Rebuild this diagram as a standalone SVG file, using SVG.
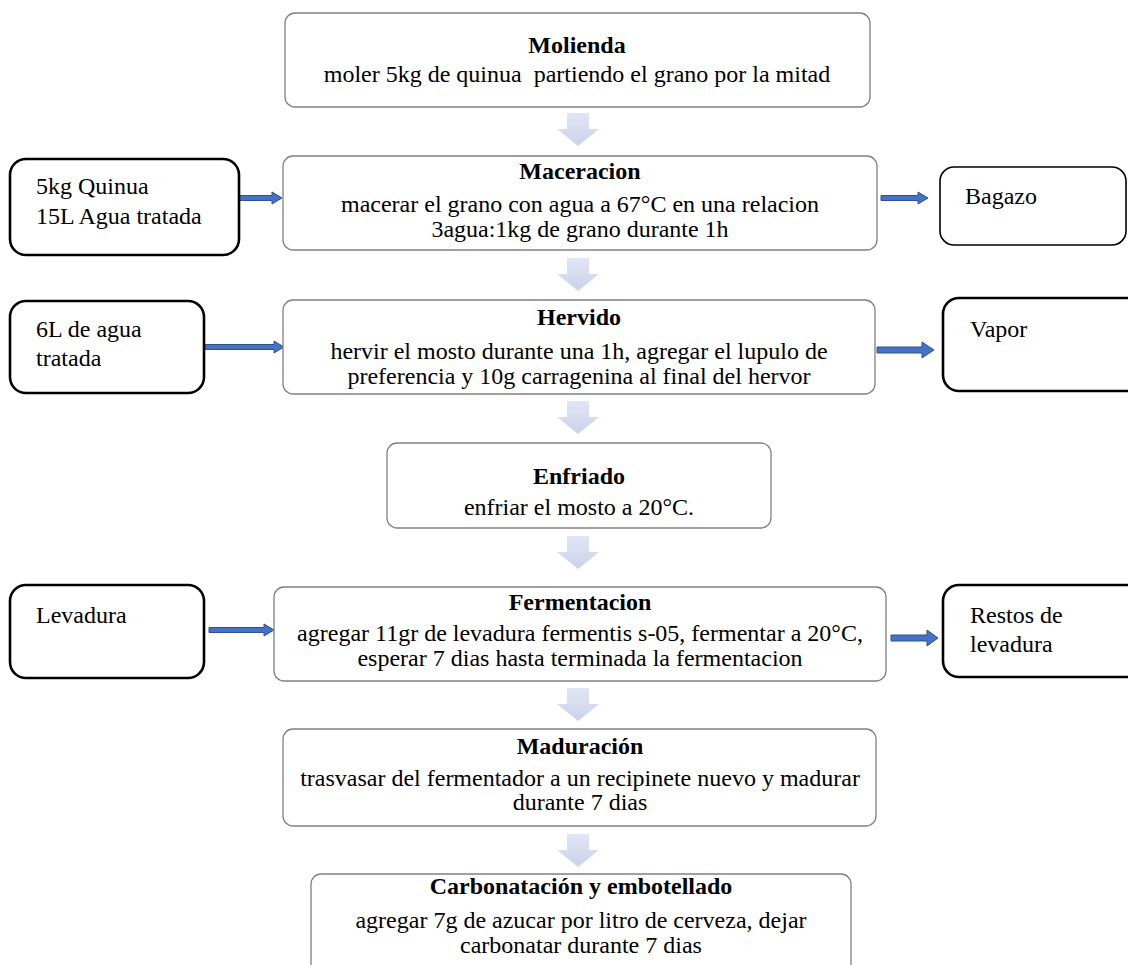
<svg xmlns="http://www.w3.org/2000/svg" width="1128" height="965" viewBox="0 0 1128 965">
<style>
.step{fill:#fff;stroke:#808080;stroke-width:1.3}
.side{fill:#fff;stroke:#000;stroke-width:2.6}
.side2{fill:#fff;stroke:#000;stroke-width:1.6}
text{font-family:"Liberation Serif","Times New Roman",serif;font-size:24px;fill:#000}
.t{font-weight:bold;text-anchor:middle}
.c{text-anchor:middle}
.blue{fill:#4472C4;stroke:#2F528F;stroke-width:1}
.down{fill:url(#g)}
</style>
<defs>
<linearGradient id="g" x1="0" y1="0" x2="0" y2="1">
<stop offset="0" stop-color="#e1e5f4"/>
<stop offset="1" stop-color="#cbd2ea"/>
</linearGradient>
<path id="dn" d="M-11,0 H11 V16 H21 L0,33 L-21,16 H-11 Z"/>
</defs>
<rect width="1128" height="965" fill="#fff"/>
<g id="connectors">
<use href="#dn" class="down" x="578" y="113"/>
<use href="#dn" class="down" x="578" y="258"/>
<use href="#dn" class="down" x="578" y="401"/>
<use href="#dn" class="down" x="578" y="536"/>
<use href="#dn" class="down" x="578" y="688"/>
<use href="#dn" class="down" x="578" y="834"/>
<polygon class="blue" points="236,195.5 272,195.5 272,192 282,198 272,204 272,200.5 236,200.5"/>
<polygon class="blue" points="881,195.5 918,195.5 918,192 928,198 918,204 918,200.5 881,200.5"/>
<polygon class="blue" points="205,344.5 274,344.5 274,341 284,347 274,353 274,349.5 205,349.5"/>
<polygon class="blue" points="877,347 922,347 922,342 934,350 922,358 922,353 877,353"/>
<polygon class="blue" points="209,627.5 264,627.5 264,624 274,630 264,636 264,632.5 209,632.5"/>
<polygon class="blue" points="891,635 927,635 927,630 938,638 927,646 927,641 891,641"/>
</g>
<g id="molienda">
<rect class="step" x="285" y="13" width="585" height="94" rx="10"/>
<text class="t" x="577" y="53">Molienda</text>
<text class="c" x="577" y="82" xml:space="preserve">moler 5kg de quinua  partiendo el grano por la mitad</text>
</g>
<g id="maceracion">
<rect class="step" x="283" y="156" width="594" height="94" rx="10"/>
<text class="t" x="580" y="179">Maceracion</text>
<text class="c" x="580" y="212">macerar el grano con agua a 67°C en una relacion</text>
<text class="c" x="580" y="237">3agua:1kg de grano durante 1h</text>
</g>
<g id="hervido">
<rect class="step" x="283" y="300" width="592" height="94" rx="10"/>
<text class="t" x="579" y="325">Hervido</text>
<text class="c" x="579" y="359">hervir el mosto durante una 1h, agregar el lupulo de</text>
<text class="c" x="579" y="384">preferencia y 10g carragenina al final del hervor</text>
</g>
<g id="enfriado">
<rect class="step" x="387" y="443" width="384" height="85" rx="10"/>
<text class="t" x="579" y="484">Enfriado</text>
<text class="c" x="579" y="515">enfriar el mosto a 20°C.</text>
</g>
<g id="fermentacion">
<rect class="step" x="274" y="587" width="612" height="94" rx="10"/>
<text class="t" x="580" y="610">Fermentacion</text>
<text class="c" x="580" y="641">agregar 11gr de levadura fermentis s-05, fermentar a 20°C,</text>
<text class="c" x="580" y="666">esperar 7 dias hasta terminada la fermentacion</text>
</g>
<g id="maduracion">
<rect class="step" x="283" y="729" width="593" height="97" rx="10"/>
<text class="t" x="580" y="754">Maduración</text>
<text class="c" x="580" y="786">trasvasar del fermentador a un recipinete nuevo y madurar</text>
<text class="c" x="580" y="810">durante 7 dias</text>
</g>
<g id="carbonatacion">
<rect class="step" x="311" y="874" width="540" height="110" rx="10"/>
<text class="t" x="581" y="894">Carbonatación y embotellado</text>
<text class="c" x="581" y="928">agregar 7g de azucar por litro de cerveza, dejar</text>
<text class="c" x="581" y="953">carbonatar durante 7 dias</text>
</g>
<g id="input-quinua">
<rect class="side" x="10" y="159" width="229" height="96" rx="16"/>
<text x="36" y="194">5kg Quinua</text>
<text x="36" y="224">15L Agua tratada</text>
</g>
<g id="output-bagazo">
<rect class="side2" x="940" y="167" width="186" height="78" rx="14"/>
<text x="965" y="204">Bagazo</text>
</g>
<g id="input-agua">
<rect class="side" x="10" y="301" width="194" height="92" rx="16"/>
<text x="36" y="337">6L de agua</text>
<text x="36" y="366">tratada</text>
</g>
<g id="output-vapor">
<rect class="side" x="943" y="298" width="200" height="93" rx="16"/>
<text x="970" y="337">Vapor</text>
</g>
<g id="input-levadura">
<rect class="side" x="10" y="585" width="194" height="93" rx="16"/>
<text x="36" y="623">Levadura</text>
</g>
<g id="output-restos">
<rect class="side" x="943" y="585" width="200" height="92" rx="16"/>
<text x="970" y="623">Restos de</text>
<text x="970" y="652">levadura</text>
</g>
</svg>
